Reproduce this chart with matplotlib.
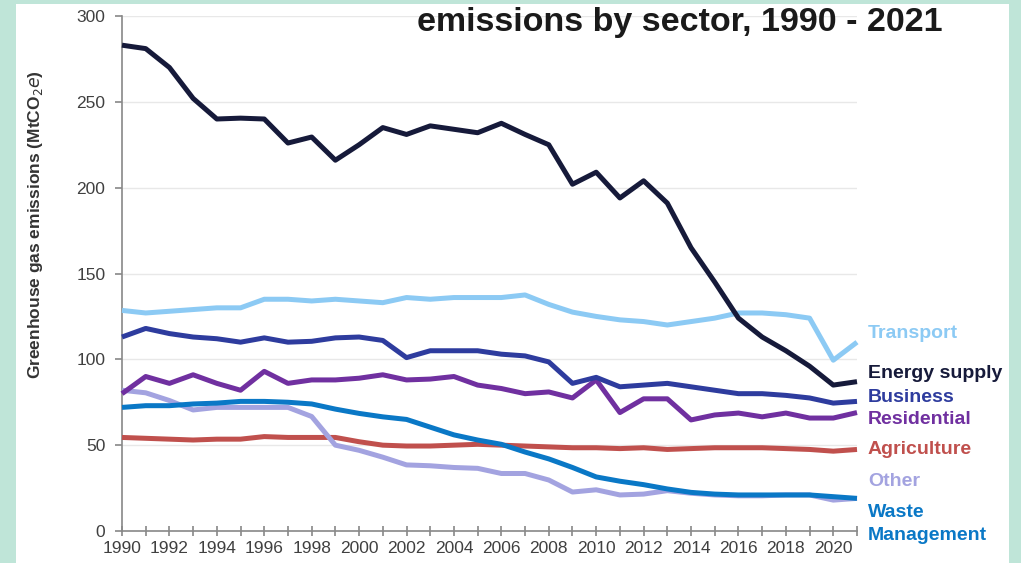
import matplotlib.pyplot as plt
from matplotlib.patches import Rectangle

years = list(range(1990, 2022))

energy_supply = [283, 281, 270, 252, 240, 240.5, 240, 226, 229.5, 216, 225, 235, 231, 236, 234, 232,
                 237.5, 231, 225, 202, 209, 194, 204, 191, 165, 145, 124, 113, 105, 96, 85, 87]
transport = [128.5, 127, 128, 129, 130, 130, 135, 135, 134, 135, 134, 133, 136, 135, 136, 136,
             136, 137.5, 132, 127.5, 125, 123, 122, 120, 122, 124, 127, 127, 126, 124, 99.5, 110]
business = [113, 118, 115, 113, 112, 110, 112.5, 110, 110.5, 112.5, 113, 111, 101, 105, 105, 105,
            103, 102, 98.5, 86, 89.5, 84, 85, 86, 84, 82, 80, 80, 79, 77.5, 74.5, 75.5]
residential = [80, 90, 86, 91, 86, 82, 93, 86, 88, 88, 89, 91, 88, 88.5, 90, 85,
               83, 80, 81, 77.5, 88, 69, 77, 77, 64.7, 67.6, 68.7, 66.5, 68.7, 65.8, 65.8, 69]
agriculture = [54.5, 54, 53.5, 53, 53.5, 53.5, 55, 54.5, 54.5, 54.5, 52, 50, 49.5, 49.5, 50, 50.5,
               50, 49.5, 49, 48.5, 48.5, 48, 48.5, 47.5, 48, 48.5, 48.5, 48.5, 48, 47.5, 46.5, 47.5]
other = [82, 80.5, 76, 70.5, 72, 72, 72, 72, 66.7, 50, 47, 43, 38.5, 38, 37, 36.5,
         33.5, 33.5, 29.7, 22.7, 24, 21, 21.5, 23.5, 22, 21, 20.5, 20.5, 21, 21, 18, 19]
waste = [72, 73, 73, 74, 74.5, 75.5, 75.5, 75, 74, 71, 68.5, 66.5, 65, 60.5, 56, 53,
         50.5, 46, 42, 37, 31.5, 29, 27, 24.5, 22.5, 21.5, 21, 21, 21, 21, 20, 19]

series = [
    ('Transport', transport, '#8ccaf4'),
    ('Energy supply', energy_supply, '#161a3a'),
    ('Business', business, '#2e3c9e'),
    ('Residential', residential, '#7030a0'),
    ('Agriculture', agriculture, '#c0504d'),
    ('Other', other, '#a3a3e0'),
    ('Waste\nManagement', waste, '#0a78c6'),
]
label_y = [334, 373, 397, 419, 449, 482, 524]

W, H = 1021, 563
fig = plt.figure(figsize=(W / 100, H / 100), dpi=100, facecolor='#bfe5d8')
fig.patches.append(Rectangle((16 / W, 0), (1009 - 16) / W, (H - 4) / H,
                             transform=fig.transFigure, facecolor='white', edgecolor='none', zorder=-5))

ax = fig.add_axes([122 / W, 32 / H, (857 - 122) / W, (531 - 16) / H])
ax.set_facecolor('none')
ax.set_zorder(2)

# draw back to front like the original
draw_order = ['Agriculture', 'Other', 'Waste\nManagement', 'Residential', 'Business', 'Transport', 'Energy supply']
lookup = {name: (vals, col) for name, vals, col in series}
for name in draw_order:
    vals, col = lookup[name]
    ax.plot(years, vals, color=col, lw=3.6, solid_joinstyle='round', solid_capstyle='butt',
            zorder=3, clip_on=False)

ax.set_xlim(1990, 2021)
ax.set_ylim(0, 300)
ax.set_yticks(range(0, 301, 50))
ax.set_xticks(range(1990, 2021, 2))
ax.set_xticks(range(1990, 2022), minor=True)
ax.yaxis.grid(True, color='#e8e8e8', lw=1)
ax.set_axisbelow(True)

for side in ['top', 'right']:
    ax.spines[side].set_visible(False)
for side in ['left', 'bottom']:
    ax.spines[side].set_color('#888888')
    ax.spines[side].set_linewidth(1.2)

ax.tick_params(axis='both', which='both', color='#888888', width=1.2, labelcolor='#404040',
               labelsize=12.5, length=5)
ax.tick_params(axis='x', which='both', direction='inout', length=7, pad=4)
ax.tick_params(axis='y', pad=7)
for lbl in ax.get_xticklabels() + ax.get_yticklabels():
    lbl.set_family('Liberation Sans')

ax.set_ylabel('Greenhouse gas emissions (MtCO$_2$$\\it{e}$)', fontsize=12.5, fontweight='bold',
              color='#333333', family='Liberation Sans')
ax.yaxis.set_label_coords(-77 / 735, 0.595)

for (name, vals, col), y in zip(series, label_y):
    fig.text(868 / W, 1 - y / H, name, color=col, fontsize=14, fontweight='bold',
             family='Liberation Sans', va='center', ha='left', linespacing=1.4)

fig.text(680 / W, 1 - 23 / H, 'emissions by sector, 1990 - 2021', fontsize=24.5, fontweight='bold',
         family='Liberation Sans', color='#1a1a1a', ha='center', va='center')

fig.savefig('out.png', dpi=100, facecolor=fig.get_facecolor())
